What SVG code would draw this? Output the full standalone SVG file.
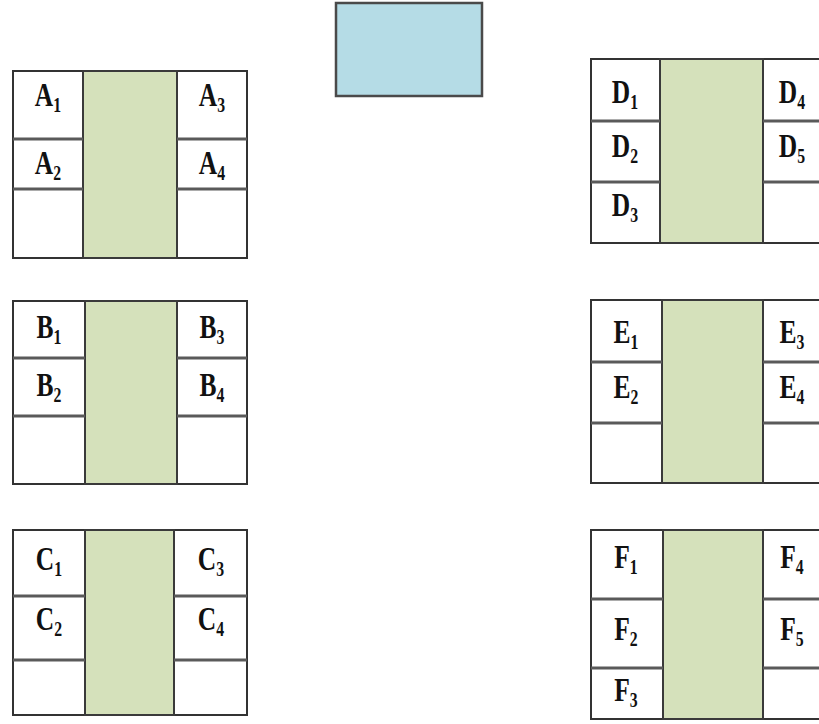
<svg xmlns="http://www.w3.org/2000/svg" width="819" height="724" viewBox="0 0 819 724">
<style>
.cell{fill:#ffffff;stroke:#333333;stroke-width:2}
.mid{fill:#d5e1bb;stroke:#3a3a3a;stroke-width:2}
.div{stroke:#5a5a5a;stroke-width:3}
.blue{fill:#b5dce6;stroke:#4a4a4a;stroke-width:2.5}
text{font-family:"Liberation Serif","Times New Roman",serif;font-weight:bold;font-size:34px;fill:#111111;text-anchor:middle}
.s{font-size:21px}
</style>
<rect width="819" height="724" fill="#ffffff"/>
<g id="top-box"><rect class="blue" x="336" y="3" width="146" height="93"/></g>
<g id="block-A">
<rect class="cell" x="13" y="71" width="234" height="187"/>
<rect class="mid" x="83" y="71" width="94" height="187"/>
<line class="div" x1="13" y1="139" x2="83" y2="139"/><line class="div" x1="13" y1="189" x2="83" y2="189"/>
<line class="div" x1="177" y1="139" x2="247" y2="139"/><line class="div" x1="177" y1="189" x2="247" y2="189"/>
<text transform="translate(48,106) scale(0.75,1)">A<tspan class="s" dy="6">1</tspan></text>
<text transform="translate(48,174) scale(0.75,1)">A<tspan class="s" dy="6">2</tspan></text>
<text transform="translate(212,106) scale(0.75,1)">A<tspan class="s" dy="6">3</tspan></text>
<text transform="translate(212,174) scale(0.75,1)">A<tspan class="s" dy="6">4</tspan></text>
</g>
<g id="block-B">
<rect class="cell" x="13" y="301" width="234" height="183"/>
<rect class="mid" x="85" y="301" width="92" height="183"/>
<line class="div" x1="13" y1="358" x2="85" y2="358"/><line class="div" x1="13" y1="416" x2="85" y2="416"/>
<line class="div" x1="177" y1="358" x2="247" y2="358"/><line class="div" x1="177" y1="416" x2="247" y2="416"/>
<text transform="translate(49,338) scale(0.75,1)">B<tspan class="s" dy="6">1</tspan></text>
<text transform="translate(49,396) scale(0.75,1)">B<tspan class="s" dy="6">2</tspan></text>
<text transform="translate(212,338) scale(0.75,1)">B<tspan class="s" dy="6">3</tspan></text>
<text transform="translate(212,396) scale(0.75,1)">B<tspan class="s" dy="6">4</tspan></text>
</g>
<g id="block-C">
<rect class="cell" x="13" y="530" width="234" height="185"/>
<rect class="mid" x="85" y="530" width="89" height="185"/>
<line class="div" x1="13" y1="596" x2="85" y2="596"/><line class="div" x1="13" y1="660" x2="85" y2="660"/>
<line class="div" x1="174" y1="596" x2="247" y2="596"/><line class="div" x1="174" y1="660" x2="247" y2="660"/>
<text transform="translate(49,570) scale(0.75,1)">C<tspan class="s" dy="6">1</tspan></text>
<text transform="translate(49,630) scale(0.75,1)">C<tspan class="s" dy="6">2</tspan></text>
<text transform="translate(211,570) scale(0.75,1)">C<tspan class="s" dy="6">3</tspan></text>
<text transform="translate(211,630) scale(0.75,1)">C<tspan class="s" dy="6">4</tspan></text>
</g>
<g id="block-D">
<rect class="cell" x="591" y="59" width="250" height="184"/>
<rect class="mid" x="660" y="59" width="103" height="184"/>
<line class="div" x1="591" y1="121" x2="660" y2="121"/><line class="div" x1="591" y1="182" x2="660" y2="182"/>
<line class="div" x1="763" y1="121" x2="841" y2="121"/><line class="div" x1="763" y1="182" x2="841" y2="182"/>
<text transform="translate(625,103) scale(0.75,1)">D<tspan class="s" dy="6">1</tspan></text>
<text transform="translate(625,157) scale(0.75,1)">D<tspan class="s" dy="6">2</tspan></text>
<text transform="translate(625,216) scale(0.75,1)">D<tspan class="s" dy="6">3</tspan></text>
<text transform="translate(792,103) scale(0.75,1)">D<tspan class="s" dy="6">4</tspan></text>
<text transform="translate(792,157) scale(0.75,1)">D<tspan class="s" dy="6">5</tspan></text>
</g>
<g id="block-E">
<rect class="cell" x="591" y="300" width="250" height="183"/>
<rect class="mid" x="662" y="300" width="101" height="183"/>
<line class="div" x1="591" y1="362" x2="662" y2="362"/><line class="div" x1="591" y1="423" x2="662" y2="423"/>
<line class="div" x1="763" y1="362" x2="841" y2="362"/><line class="div" x1="763" y1="423" x2="841" y2="423"/>
<text transform="translate(626,343) scale(0.75,1)">E<tspan class="s" dy="6">1</tspan></text>
<text transform="translate(626,398) scale(0.75,1)">E<tspan class="s" dy="6">2</tspan></text>
<text transform="translate(792,343) scale(0.75,1)">E<tspan class="s" dy="6">3</tspan></text>
<text transform="translate(792,398) scale(0.75,1)">E<tspan class="s" dy="6">4</tspan></text>
</g>
<g id="block-F">
<rect class="cell" x="591" y="530" width="250" height="189"/>
<rect class="mid" x="663" y="530" width="100" height="189"/>
<line class="div" x1="591" y1="599" x2="663" y2="599"/><line class="div" x1="591" y1="668" x2="663" y2="668"/>
<line class="div" x1="763" y1="599" x2="841" y2="599"/><line class="div" x1="763" y1="668" x2="841" y2="668"/>
<text transform="translate(626,568) scale(0.75,1)">F<tspan class="s" dy="6">1</tspan></text>
<text transform="translate(626,640) scale(0.75,1)">F<tspan class="s" dy="6">2</tspan></text>
<text transform="translate(626,701) scale(0.75,1)">F<tspan class="s" dy="6">3</tspan></text>
<text transform="translate(792,568) scale(0.75,1)">F<tspan class="s" dy="6">4</tspan></text>
<text transform="translate(792,640) scale(0.75,1)">F<tspan class="s" dy="6">5</tspan></text>
</g>
</svg>
